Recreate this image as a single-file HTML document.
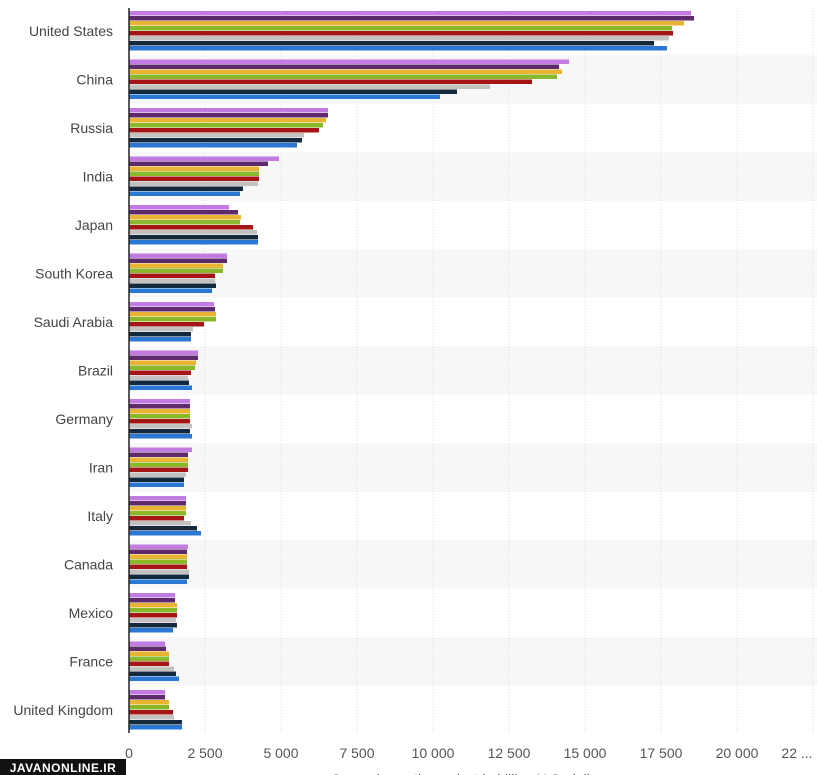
<!DOCTYPE html>
<html><head><meta charset="utf-8"><style>
body{margin:0;background:#fff;}
svg{display:block;font-family:"Liberation Sans",sans-serif;}
</style></head><body>
<svg width="817" height="775" xmlns="http://www.w3.org/2000/svg">
<g id="bands"></g>
<g id="grid"></g>
<g id="bars"></g>
<line x1="129" y1="8" x2="129" y2="733" stroke="#222" stroke-width="1.5"/>
<g id="labels" font-size="14" fill="#444" text-anchor="end"></g>
<g id="ticks" font-size="14" fill="#555" text-anchor="middle"></g>
<text x="470" y="784" font-size="14" fill="#555" text-anchor="middle">Gross domestic product in billion U.S. dollars</text>
<rect x="0" y="759" width="126" height="16" fill="#111"/>
<text x="63" y="772" font-size="12" font-weight="bold" fill="#fff" text-anchor="middle" letter-spacing="0.5">JAVANONLINE.IR</text>
<script>
const ns="http://www.w3.org/2000/svg";
function el(p,t,a,txt){const e=document.createElementNS(ns,t);for(const k in a)e.setAttribute(k,a[k]);if(txt)e.textContent=txt;document.getElementById(p).appendChild(e);}
const names=["United States","China","Russia","India","Japan","South Korea","Saudi Arabia","Brazil","Germany","Iran","Italy","Canada","Mexico","France","United Kingdom"];
const vals=[[691,694,684,672,673,669,654,667],[569,559,562,557,532,490,457,440],[328,328,326,323,319,304,302,297],[279,268,259,259,259,258,243,240],[229,238,241,240,253,257,258,258],[227,227,223,223,215,215,216,212],[214,215,216,216,204,193,191,191],[198,198,196,195,191,188,189,192],[190,190,190,190,190,192,190,192],[192,188,188,188,188,186,184,184],[186,186,186,186,184,191,197,201],[188,187,187,187,187,189,189,187],[175,175,177,177,177,176,177,173],[165,166,169,169,169,174,176,179],[165,165,169,169,173,174,182,182]];
const cols=["#c27be0","#5e2a6c","#e8b432","#8ab82a","#a51515","#c4c1c1","#13293d","#2a78d4"];
names.forEach((n,i)=>{const c=31+48.5*i;
 if(i%2==1)el("bands","rect",{x:129,y:c-24.25,width:688,height:48.5,fill:"#f7f7f7"});
 el("labels","text",{x:113,y:c+5},n);
 vals[i].forEach((v,j)=>el("bars","rect",{x:129,y:c-20+j*5,width:v-129,height:4.5,fill:cols[j]}));
});
const tl=["0","2 500","5 000","7 500","10 000","12 500","15 000","17 500","20 000"];
tl.forEach((t,k)=>{const x=129+76*k;
 if(k>0)el("grid","line",{x1:x,y1:8,x2:x,y2:733,stroke:"#ddd","stroke-dasharray":"1,2"});
 el("ticks","text",{x:x,y:758},t);});
el("grid","line",{x1:813,y1:8,x2:813,y2:733,stroke:"#ddd","stroke-dasharray":"1,2"});
el("ticks","text",{x:797,y:758},"22 ...");
</script>
</svg>
</body></html>
